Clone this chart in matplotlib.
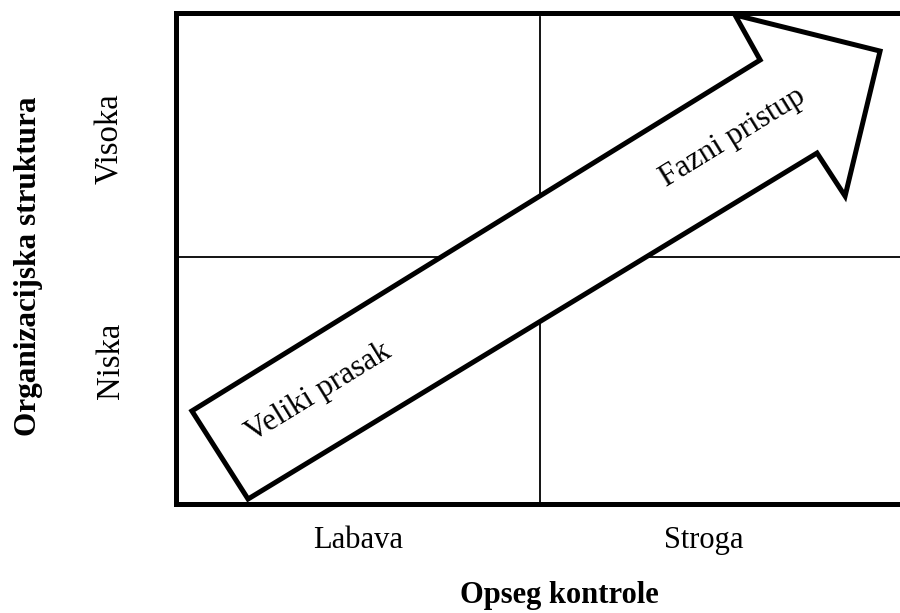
import matplotlib
matplotlib.use("Agg")
import matplotlib.pyplot as plt
from matplotlib.patches import Polygon

plt.rcParams['font.family'] = ['Liberation Serif', 'DejaVu Serif']

# ---- data ----
x_categories = ['Labava', 'Stroga']
x_positions = [0.5, 1.45]
y_categories = ['Niska', 'Visoka']
y_positions = [0.58, 1.475]
x_title = 'Opseg kontrole'
y_title = 'Organizacijska struktura'
divider_x = 1.0
divider_y = 1.0
arrow_x = [0.045, 0.199, 1.760, 1.837, 1.933, 1.535, 1.604]
arrow_y = [0.376, 0.020, 1.418, 1.244, 1.830, 1.976, 1.794]
arrow_labels = ['Veliki prasak', 'Fazni pristup']
arrow_label_x = [0.392, 1.529]
arrow_label_y = [0.452, 1.483]
arrow_angle = 31.6

W, H = 900, 613
fig = plt.figure(figsize=(W / 100, H / 100), dpi=100)
left_px, right_px, top_px, bot_px = 175.5, 900, 12.5, 504
ax = fig.add_axes([left_px / W, (H - bot_px) / H,
                   (right_px - left_px) / W, (bot_px - top_px) / H])
ax.set_xlim(0, (right_px - left_px) / 364.5)
ax.set_ylim(0, (bot_px - top_px) / 247.5)

for s in ['left', 'top', 'bottom']:
    ax.spines[s].set_linewidth(3.6)
    ax.spines[s].set_color('black')
ax.spines['right'].set_visible(False)

ax.axvline(divider_x, color='black', lw=1.3, ymin=0, ymax=0.99)
ax.axhline(divider_y, color='black', lw=1.3)

poly = Polygon(list(zip(arrow_x, arrow_y)), closed=True, facecolor='white',
               edgecolor='black', lw=3.6, joinstyle='miter', zorder=3)
ax.add_patch(poly)

for t, x, y in zip(arrow_labels, arrow_label_x, arrow_label_y):
    ax.text(x, y, t, rotation=arrow_angle, rotation_mode='anchor',
            ha='center', va='center', fontsize=22.6, zorder=4)

ax.set_xticks(x_positions)
ax.set_xticklabels(x_categories, fontsize=22)
ax.set_yticks(y_positions)
ax.set_yticklabels(y_categories, fontsize=23.5, rotation=90, va='center')
ax.tick_params(axis='x', length=0, pad=16)
ax.tick_params(axis='y', length=0, pad=36)

fig.text(559.5 / W, 1 - 596 / H, x_title, fontsize=22, fontweight='bold',
         ha='center', va='center')
fig.text(29 / W, 1 - 266 / H, y_title, fontsize=22.5, fontweight='bold',
         ha='center', va='center', rotation=90)

fig.savefig('out.png', dpi=100)
